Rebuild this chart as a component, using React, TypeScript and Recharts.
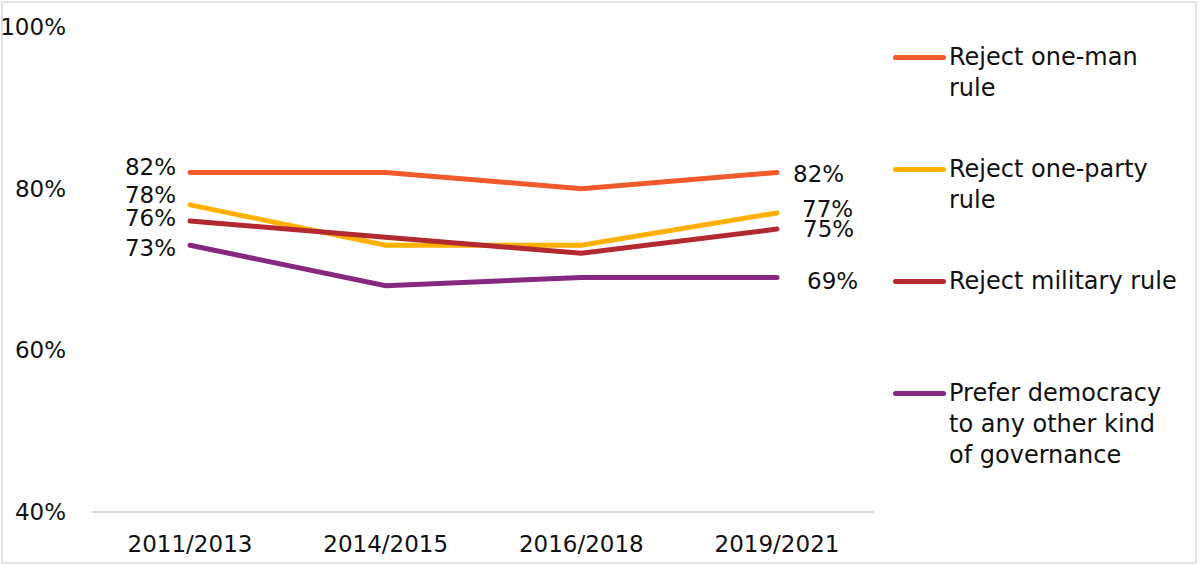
import { LineChart, Line, XAxis, YAxis, LabelList } from 'recharts';

const periods = ['2011/2013', '2014/2015', '2016/2018', '2019/2021'];
const oneManRule = [82, 82, 80, 82];
const onePartyRule = [78, 73, 73, 77];
const militaryRule = [76, 74, 72, 75];
const preferDemocracy = [73, 68, 69, 69];
const yTicks = [40, 60, 80, 100];

const seriesNames = [
  'Reject one-man\nrule',
  'Reject one-party\nrule',
  'Reject military rule',
  'Prefer democracy\nto any other kind\nof governance',
];
const seriesColors = ['#F15A2B', '#FFB000', '#B3292F', '#86287F'];
const seriesValues = [oneManRule, onePartyRule, militaryRule, preferDemocracy];

// label nudges so end labels don't collide: [leftDy, rightDx, rightDy]
const labelNudge = [
  [-6, 16, 1],
  [-10, 25, -4],
  [-3, 26, 0],
  [2, 30, 3],
];

const data = periods.map((p, i) => {
  const row: Record<string, string | number> = { period: p };
  seriesValues.forEach((vals, s) => {
    row[`s${s}`] = vals[i];
  });
  return row;
});

const FONT = '"DejaVu Sans", sans-serif';

const makeLabel = (s: number) => (props: any) => {
  const { x, y, value, index } = props;
  const last = periods.length - 1;
  if (index !== 0 && index !== last) return null;
  const [ldy, rdx, rdy] = labelNudge[s];
  const isLeft = index === 0;
  return (
    <text
      x={isLeft ? x - 14 : x + rdx}
      y={y + (isLeft ? ldy : rdy)}
      dy="0.36em"
      textAnchor={isLeft ? 'end' : 'start'}
      fontSize={23}
      fontFamily={FONT}
      fill="#111"
    >
      {`${value}%`}
    </text>
  );
};

const LegendBox = () => (
  <div
    style={{
      position: 'absolute',
      left: 893,
      top: 42,
      width: 300,
      fontFamily: FONT,
      fontSize: 24,
      color: '#111',
      lineHeight: '31px',
    }}
  >
    {seriesNames.map((name, i) => (
      <div key={i} style={{ display: 'flex', height: 112 }}>
        <div
          style={{
            width: 53,
            height: 5,
            borderRadius: 3,
            background: seriesColors[i],
            marginTop: 13,
            marginRight: 3,
            flexShrink: 0,
          }}
        />
        <div style={{ whiteSpace: 'pre-line' }}>{name}</div>
      </div>
    ))}
  </div>
);

export default function App() {
  return (
    <div
      style={{
        position: 'fixed',
        left: 0,
        top: 0,
        width: 1200,
        height: 566,
        background: '#fff',
      }}
    >
      <div
        style={{
          position: 'absolute',
          left: 1,
          top: 1,
          width: 1196,
          height: 563,
          border: '2px solid #e3e3e3',
          boxSizing: 'border-box',
          pointerEvents: 'none',
        }}
      />
      <LineChart
        width={1200}
        height={566}
        data={data}
        margin={{ top: 27, right: 325, bottom: 0, left: 0 }}
      >
        <XAxis
          dataKey="period"
          padding={{ left: 98, right: 98 }}
          axisLine={{ stroke: '#d9d9d9', strokeWidth: 2 }}
          tickLine={false}
          tickSize={0}
          tickMargin={24}
          height={54}
          interval={0}
          tick={{ fontSize: 23, fontFamily: FONT, fill: '#111' }}
        />
        <YAxis
          domain={[40, 100]}
          ticks={yTicks}
          width={92}
          axisLine={false}
          tickLine={false}
          tickSize={0}
          tickMargin={26}
          tickFormatter={(v) => `${v}%`}
          tick={{ fontSize: 23, fontFamily: FONT, fill: '#111' }}
        />
        {seriesNames.map((name, s) => (
          <Line
            key={s}
            dataKey={`s${s}`}
            name={name}
            type="linear"
            stroke={seriesColors[s]}
            strokeWidth={5}
            strokeLinecap="round"
            dot={false}
            activeDot={false}
            isAnimationActive={false}
          >
            <LabelList dataKey={`s${s}`} content={makeLabel(s)} />
          </Line>
        ))}
      </LineChart>
      <LegendBox />
    </div>
  );
}
